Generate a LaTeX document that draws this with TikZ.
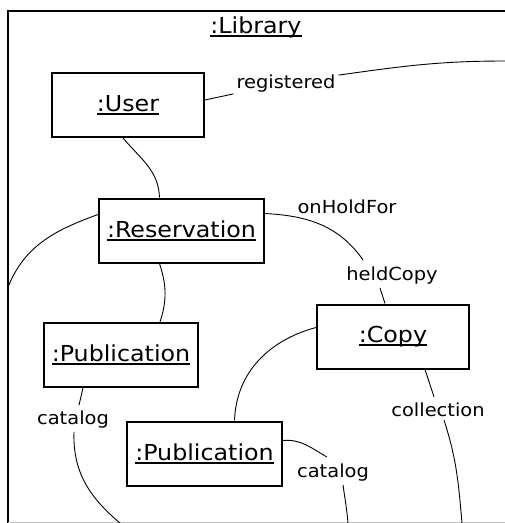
\documentclass[tikz,border=0pt]{standalone}
\usepackage{fontspec}
\setmainfont{DejaVu Sans}[FakeStretch=1.08]
\usepackage{xcolor}
\usetikzlibrary{calc}

\newcommand{\objname}[1]{\setbox0\hbox{#1}\rlap{\rule[-3.5pt]{\wd0}{1.8pt}}\box0}

\tikzset{
  obj/.style={draw, line width=2pt, minimum width=152pt, minimum height=64pt, inner xsep=8pt, font=\fontsize{22}{26}\selectfont},
  role/.style={inner sep=3pt, font=\fontsize{18}{21}\selectfont},
  link/.style={line width=0.9pt},
}

\begin{document}
\begin{tikzpicture}[x=1pt, y=-1pt]
\useasboundingbox (0,0) rectangle (505,523);
% the enclosing library object
\draw[line width=2pt] (505,10.5) -- (8,10.5) -- (8,523);
\draw[black!25, line width=1pt] (8,522) -- (505,522);
\node[font=\fontsize{22}{26}\selectfont] (lib) at (256,27) {\objname{:Library}};

% objects
\node[obj] (user) at (128,105) {\objname{:User}};
\node[obj] (res) at (181.5,230.5) {\objname{:Reservation}};
\node[obj] (pubA) at (121,355) {\objname{:Publication}};
\node[obj] (copy) at (393,336.5) {\objname{:Copy}};
\node[obj] (pubB) at (204.5,453.5) {\objname{:Publication}};

% role names
\node[role] (reg) at (286,84) {registered};
\node[role] (hold) at (347,207) {onHoldFor};
\node[role] (held) at (392,276) {heldCopy};
\node[role] (catA) at (73,420) {catalog};
\node[role] (coll) at (438,410) {collection};
\node[role] (catB) at (333,473) {catalog};

% loose ends at the border
\coordinate (regE) at (505,61);
\coordinate (resW) at (8,287);
\coordinate (catAE) at (120,523);
\coordinate (catBE) at (348,523);
\coordinate (collE) at (462,523);

% links
\draw[link] ([yshift=5pt]user.east) -- ([yshift=2pt]reg.south west);
\draw[link] ([yshift=-3pt]reg.north east) to[out=8, in=180] (regE);
\draw[link] ([xshift=-5pt]user.south) to[out=-50, in=92] ([xshift=-22pt]res.north);
\draw[link] ([yshift=16pt]res.west) to[out=200, in=68] (resW);
\draw[link] ([xshift=-22pt]res.south) to[out=-72, in=72] ([xshift=39pt]pubA.north);
\draw[link] ([yshift=17pt]res.east) to[out=-3, in=125] ([xshift=20pt,yshift=4pt]held.north west);
\draw[link] ([xshift=-12pt]held.south) -- ([xshift=-8pt]copy.north);
\draw[link] ([yshift=9pt]copy.west) to[out=195, in=88] ([xshift=30pt]pubB.north);
\draw[link] ([yshift=13pt]pubB.east) to[out=5, in=150] ([xshift=-6pt,yshift=4pt]catB.north);
\draw[link] ([xshift=10pt]catB.south) to[out=-82, in=95] (catBE);
\draw[link] ([xshift=-38pt]pubA.south) -- ([xshift=6pt,yshift=3pt]catA.north);
\draw[link] ([xshift=1pt]catA.south) to[out=-92, in=140] (catAE);
\draw[link] ([xshift=32pt]copy.south) -- ([xshift=-4pt,yshift=3pt]coll.north);
\draw[link] ([xshift=6pt]coll.south) to[out=-72, in=95] (collE);
\end{tikzpicture}
\end{document}
